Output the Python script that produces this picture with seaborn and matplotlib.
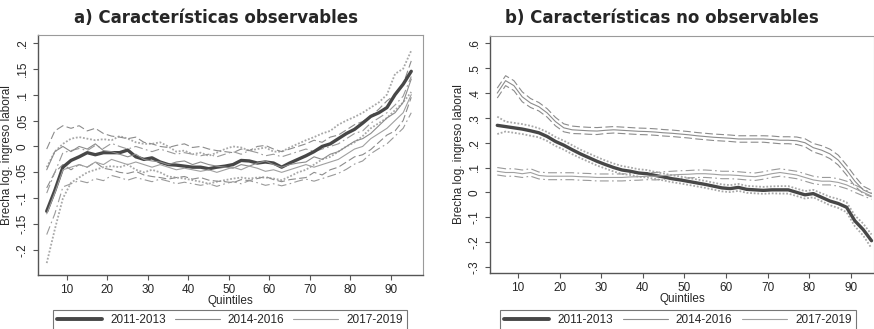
import numpy as np
import pandas as pd
import matplotlib
matplotlib.use("Agg")
import matplotlib.pyplot as plt
import seaborn as sns

sns.set_style("white")
plt.rcParams['font.family'] = ['Liberation Sans', 'DejaVu Sans']

quintiles = list(range(5, 96, 2))
periods = ["2011-2013", "2014-2016", "2017-2019"]
titles = ["a) Características observables", "b) Características no observables"]
ylabel = "Brecha log. ingreso laboral"
xlabel = "Quintiles"

# ---- panel a) observable characteristics ----
a_2011 = [-0.125, -0.085, -0.04, -0.027, -0.02, -0.012, -0.016, -0.012, -0.012, -0.012, -0.007, -0.02, -0.025, -0.022, -0.03, -0.035,
          -0.036, -0.038, -0.04, -0.04, -0.043, -0.04, -0.038, -0.035, -0.027, -0.028, -0.032, -0.03, -0.032, -0.04, -0.032, -0.025,
          -0.018, -0.01, 0.0, 0.005, 0.015, 0.025, 0.033, 0.045, 0.058, 0.065, 0.075, 0.1, 0.12, 0.145]
a_2011_hi = [-0.04, -0.01, 0.005, 0.015, 0.018, 0.015, 0.012, 0.014, 0.012, 0.02, 0.015, 0.008, 0.005, 0.005, 0.008, 0.0,
             -0.01, -0.008, -0.015, -0.012, -0.018, -0.012, -0.005, 0.0, -0.002, -0.008, -0.005, -0.002, -0.01, -0.01, -0.002, 0.005,
             0.012, 0.018, 0.025, 0.03, 0.042, 0.05, 0.057, 0.065, 0.075, 0.085, 0.1, 0.14, 0.15, 0.185]
a_2011_lo = [-0.225, -0.16, -0.1, -0.07, -0.06, -0.05, -0.045, -0.04, -0.038, -0.04, -0.035, -0.045, -0.05, -0.045, -0.05, -0.058,
             -0.06, -0.062, -0.065, -0.068, -0.072, -0.068, -0.065, -0.062, -0.06, -0.062, -0.06, -0.06, -0.062, -0.065, -0.058, -0.05,
             -0.045, -0.035, -0.025, -0.02, -0.01, 0.0, 0.008, 0.02, 0.035, 0.045, 0.055, 0.07, 0.085, 0.105]
a_2014 = [-0.045, -0.01, 0.0, -0.01, 0.0, -0.005, 0.005, -0.008, -0.01, -0.015, -0.02, -0.015, -0.025, -0.028, -0.03, -0.035,
          -0.03, -0.028, -0.035, -0.03, -0.035, -0.038, -0.04, -0.042, -0.035, -0.038, -0.032, -0.028, -0.035, -0.04, -0.035, -0.032,
          -0.03, -0.02, -0.025, -0.015, -0.01, 0.0, 0.01, 0.015, 0.025, 0.04, 0.055, 0.065, 0.085, 0.13]
a_2014_hi = [-0.005, 0.03, 0.04, 0.035, 0.04, 0.03, 0.035, 0.025, 0.02, 0.018, 0.015, 0.018, 0.008, 0.005, 0.0, -0.002,
             0.002, 0.005, -0.002, 0.0, -0.005, -0.008, -0.01, -0.012, -0.005, -0.008, 0.0, 0.002, -0.005, -0.01, -0.005, 0.0,
             0.005, 0.012, 0.008, 0.018, 0.022, 0.032, 0.042, 0.048, 0.058, 0.072, 0.088, 0.1, 0.12, 0.165]
a_2014_lo = [-0.08, -0.05, -0.035, -0.045, -0.035, -0.04, -0.03, -0.042, -0.045, -0.05, -0.052, -0.048, -0.055, -0.058, -0.06, -0.063,
             -0.06, -0.058, -0.063, -0.06, -0.065, -0.067, -0.068, -0.07, -0.064, -0.066, -0.062, -0.058, -0.064, -0.068, -0.064, -0.062,
             -0.06, -0.05, -0.055, -0.045, -0.04, -0.03, -0.02, -0.016, -0.006, 0.008, 0.022, 0.03, 0.05, 0.095]
a_2017 = [-0.13, -0.09, -0.045, -0.04, -0.035, -0.04, -0.03, -0.035, -0.025, -0.03, -0.035, -0.03, -0.035, -0.04, -0.035, -0.04,
          -0.045, -0.042, -0.045, -0.048, -0.045, -0.05, -0.045, -0.04, -0.045, -0.038, -0.042, -0.048, -0.045, -0.05, -0.045, -0.04,
          -0.035, -0.04, -0.035, -0.03, -0.025, -0.015, -0.005, 0.0, 0.015, 0.025, 0.035, 0.05, 0.065, 0.1]
a_2017_hi = [-0.09, -0.05, -0.012, -0.008, -0.004, -0.008, 0.002, -0.004, 0.006, 0.0, -0.005, 0.0, -0.005, -0.01, -0.005, -0.01,
             -0.015, -0.012, -0.015, -0.018, -0.015, -0.02, -0.015, -0.01, -0.015, -0.008, -0.012, -0.018, -0.015, -0.02, -0.015, -0.01,
             -0.005, -0.01, -0.005, 0.0, 0.005, 0.015, 0.025, 0.03, 0.045, 0.055, 0.065, 0.08, 0.097, 0.135]
a_2017_lo = [-0.17, -0.13, -0.078, -0.072, -0.066, -0.07, -0.062, -0.066, -0.056, -0.06, -0.065, -0.06, -0.064, -0.068, -0.063, -0.067,
             -0.072, -0.069, -0.072, -0.075, -0.072, -0.077, -0.072, -0.068, -0.072, -0.066, -0.07, -0.075, -0.072, -0.076, -0.072, -0.067,
             -0.063, -0.067, -0.062, -0.057, -0.052, -0.044, -0.034, -0.028, -0.014, -0.004, 0.005, 0.02, 0.035, 0.065]

# ---- panel b) non-observable characteristics ----
b_2011 = [0.27, 0.265, 0.26, 0.255, 0.248, 0.24, 0.225, 0.205, 0.19, 0.172, 0.155, 0.14, 0.125, 0.112, 0.1, 0.09,
          0.085, 0.078, 0.075, 0.068, 0.062, 0.055, 0.05, 0.044, 0.038, 0.032, 0.025, 0.018, 0.015, 0.02, 0.012, 0.01,
          0.008, 0.01, 0.01, 0.01, 0.0, -0.01, -0.005, -0.02, -0.035, -0.045, -0.06, -0.115, -0.15, -0.195]
b_2011_hi = [0.305, 0.285, 0.28, 0.275, 0.268, 0.258, 0.243, 0.223, 0.208, 0.19, 0.172, 0.157, 0.142, 0.128, 0.116, 0.106,
             0.1, 0.093, 0.09, 0.082, 0.076, 0.069, 0.064, 0.058, 0.052, 0.046, 0.039, 0.032, 0.029, 0.034, 0.026, 0.024,
             0.022, 0.024, 0.025, 0.025, 0.015, 0.005, 0.01, -0.004, -0.018, -0.027, -0.04, -0.093, -0.126, -0.17]
b_2011_lo = [0.235, 0.245, 0.24, 0.235, 0.228, 0.222, 0.207, 0.187, 0.172, 0.154, 0.138, 0.123, 0.108, 0.096, 0.084, 0.074,
             0.07, 0.063, 0.06, 0.054, 0.048, 0.041, 0.036, 0.03, 0.024, 0.018, 0.011, 0.004, 0.001, 0.006, -0.002, -0.004,
             -0.006, -0.004, -0.005, -0.005, -0.015, -0.025, -0.02, -0.036, -0.052, -0.063, -0.08, -0.137, -0.174, -0.225]
b_2014 = [0.40, 0.45, 0.43, 0.385, 0.36, 0.345, 0.32, 0.285, 0.26, 0.252, 0.25, 0.248, 0.247, 0.25, 0.252, 0.25,
          0.248, 0.246, 0.245, 0.243, 0.24, 0.238, 0.235, 0.232, 0.228, 0.225, 0.222, 0.22, 0.218, 0.215, 0.215, 0.215,
          0.215, 0.213, 0.21, 0.21, 0.208, 0.2, 0.18, 0.17, 0.155, 0.13, 0.09, 0.045, 0.01, -0.005]
b_2014_hi = [0.42, 0.47, 0.45, 0.405, 0.378, 0.362, 0.337, 0.302, 0.276, 0.267, 0.264, 0.262, 0.261, 0.263, 0.265, 0.263,
             0.261, 0.259, 0.258, 0.256, 0.253, 0.251, 0.248, 0.245, 0.241, 0.238, 0.235, 0.233, 0.231, 0.228, 0.228, 0.228,
             0.228, 0.227, 0.224, 0.224, 0.223, 0.216, 0.197, 0.188, 0.174, 0.15, 0.11, 0.065, 0.025, 0.008]
b_2014_lo = [0.38, 0.43, 0.41, 0.365, 0.342, 0.328, 0.303, 0.268, 0.244, 0.237, 0.236, 0.234, 0.233, 0.237, 0.239, 0.237,
             0.235, 0.233, 0.232, 0.23, 0.227, 0.225, 0.222, 0.219, 0.215, 0.212, 0.209, 0.207, 0.205, 0.202, 0.202, 0.202,
             0.202, 0.199, 0.196, 0.196, 0.193, 0.184, 0.163, 0.152, 0.136, 0.11, 0.07, 0.025, -0.005, -0.018]
b_2017 = [0.085, 0.08, 0.08, 0.075, 0.08, 0.068, 0.065, 0.065, 0.065, 0.065, 0.063, 0.062, 0.06, 0.06, 0.06, 0.06,
          0.062, 0.063, 0.065, 0.065, 0.068, 0.07, 0.072, 0.073, 0.075, 0.075, 0.073, 0.07, 0.07, 0.068, 0.065, 0.063,
          0.068, 0.075, 0.08, 0.075, 0.07, 0.06, 0.05, 0.045, 0.045, 0.04, 0.03, 0.015, 0.0, -0.015]
b_2017_hi = [0.1, 0.095, 0.095, 0.09, 0.095, 0.082, 0.079, 0.079, 0.079, 0.079, 0.077, 0.076, 0.074, 0.074, 0.074, 0.074,
             0.076, 0.077, 0.079, 0.08, 0.083, 0.085, 0.087, 0.088, 0.09, 0.09, 0.088, 0.085, 0.085, 0.083, 0.08, 0.078,
             0.083, 0.09, 0.095, 0.09, 0.085, 0.075, 0.065, 0.06, 0.06, 0.055, 0.045, 0.03, 0.014, -0.002]
b_2017_lo = [0.07, 0.065, 0.065, 0.06, 0.065, 0.054, 0.051, 0.051, 0.051, 0.051, 0.049, 0.048, 0.046, 0.046, 0.046, 0.046,
             0.048, 0.049, 0.051, 0.05, 0.053, 0.055, 0.057, 0.058, 0.06, 0.06, 0.058, 0.055, 0.055, 0.053, 0.05, 0.048,
             0.053, 0.06, 0.065, 0.06, 0.055, 0.045, 0.035, 0.03, 0.03, 0.025, 0.015, 0.0, -0.014, -0.028]

a_yticks = [-0.2, -0.15, -0.1, -0.05, 0.0, 0.05, 0.1, 0.15, 0.2]
a_yticklabels = ["-.2", "-.15", "-.1", "-.05", "0", ".05", ".1", ".15", ".2"]
b_yticks = [-0.3, -0.2, -0.1, 0.0, 0.1, 0.2, 0.3, 0.4, 0.5, 0.6]
b_yticklabels = ["-.3", "-.2", "-.1", "0", ".1", ".2", ".3", ".4", ".5", ".6"]
xticks = [10, 20, 30, 40, 50, 60, 70, 80, 90]

panels = [
    dict(est=[a_2011, a_2014, a_2017], hi=[a_2011_hi, a_2014_hi, a_2017_hi], lo=[a_2011_lo, a_2014_lo, a_2017_lo],
         yticks=a_yticks, ylabels=a_yticklabels, ylim=(-0.248, 0.215), xlim=(2.85, 97.9),
         pos=[38/874, 1-275/329, (423-38)/874, (275-35)/329], title_x=216/874, leg=[53/874, 1-310/329, 354/874]),
    dict(est=[b_2011, b_2014, b_2017], hi=[b_2011_hi, b_2014_hi, b_2017_hi], lo=[b_2011_lo, b_2014_lo, b_2017_lo],
         yticks=b_yticks, ylabels=b_yticklabels, ylim=(-0.325, 0.63), xlim=(3.25, 95.6),
         pos=[490/874, 1-273/329, (874-490)/874, (273-36)/329], title_x=662/874, leg=[500/874, 1-310/329, 356/874]),
]

est_styles = [dict(color="#474747", lw=2.4, ls="-"),
              dict(color="#8c8c8c", lw=0.8, ls="-"),
              dict(color="#a0a0a0", lw=0.8, ls="-")]
ci_styles = [dict(color="#a8a8a8", lw=1.3, ls=(0, (1, 1))),
             dict(color="#8c8c8c", lw=0.8, ls=(0, (7, 3))),
             dict(color="#9a9a9a", lw=0.8, ls=(0, (8, 3, 1.5, 3)))]

fig = plt.figure(figsize=(8.74, 3.29), dpi=100)

for i, p in enumerate(panels):
    ax = fig.add_axes(p["pos"])
    handles = []
    for k, per in enumerate(periods):
        df = pd.DataFrame({"q": quintiles, "lo": p["lo"][k], "hi": p["hi"][k]})
        for col in ["lo", "hi"]:
            sns.lineplot(data=df, x="q", y=col, ax=ax, color=ci_styles[k]["color"],
                         linewidth=ci_styles[k]["lw"], linestyle=ci_styles[k]["ls"], legend=False)
    for k, per in enumerate(periods):
        df = pd.DataFrame({"q": quintiles, "est": p["est"][k]})
        sns.lineplot(data=df, x="q", y="est", ax=ax, color=est_styles[k]["color"],
                     linewidth=est_styles[k]["lw"], linestyle=est_styles[k]["ls"], legend=False)
        handles.append(matplotlib.lines.Line2D([], [], color=est_styles[k]["color"],
                                               lw=est_styles[k]["lw"] + (0.4 if k == 0 else 0), label=per))
    ax.set_xlim(*p["xlim"])
    ax.set_ylim(*p["ylim"])
    ax.set_xticks(xticks)
    ax.set_xticklabels([str(t) for t in xticks], fontsize=8.5)
    ax.set_yticks(p["yticks"])
    ax.set_yticklabels(p["ylabels"], fontsize=8.5, rotation=90, va="center")
    ax.set_xlabel(xlabel, fontsize=8.5, labelpad=-1)
    ax.set_ylabel(ylabel, fontsize=8.5, labelpad=3)
    ax.tick_params(axis="both", length=3.5, width=0.8, color="#555555", pad=3, direction="out",
                   bottom=True, left=True)
    for s in ["left", "bottom"]:
        ax.spines[s].set_color("#555555")
        ax.spines[s].set_linewidth(1.0)
    for s in ["top", "right"]:
        ax.spines[s].set_color("#9a9a9a")
        ax.spines[s].set_linewidth(0.8)
    fig.text(p["title_x"], 1 - 18/329, titles[i], ha="center", va="center",
             fontsize=12, fontweight="bold", family=["DejaVu Sans"])
    lx, ly, lw = p["leg"]
    leg = fig.legend(handles=handles, loc="upper left", bbox_to_anchor=(lx, ly, lw, 0.001),
                     mode="expand", ncol=3, frameon=True, fancybox=False, fontsize=8.5,
                     handlelength=3.8, borderpad=0.35, borderaxespad=0.0,
                     columnspacing=1.5, handletextpad=0.7)
    leg.get_frame().set_edgecolor("#555555")
    leg.get_frame().set_linewidth(0.8)

fig.savefig("out.png", dpi=100)
